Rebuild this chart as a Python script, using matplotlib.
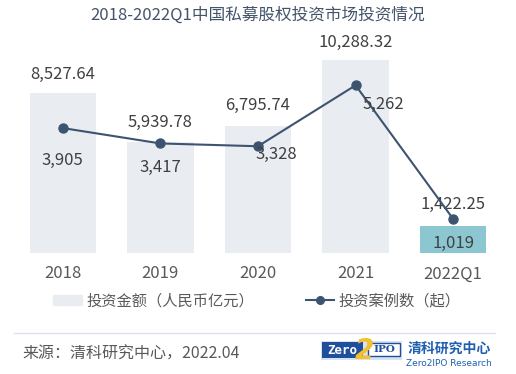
import matplotlib
matplotlib.use("Agg")
import matplotlib.pyplot as plt
from matplotlib.patches import Rectangle
from matplotlib.lines import Line2D

plt.rcParams['font.family'] = ['Noto Sans CJK SC', 'DejaVu Sans']

years = ['2018', '2019', '2020', '2021', '2022Q1']
amount = [8527.64, 5939.78, 6795.74, 10288.32, 1422.25]
cases = [3905, 3417, 3328, 5262, 1019]
amount_labels = ['8,527.64', '5,939.78', '6,795.74', '10,288.32', '1,422.25']
case_labels = ['3,905', '3,417', '3,328', '5,262', '1,019']

bar_color = '#E9EDF2'
hl_color = '#8CC6D1'
line_color = '#3D5470'
text_color = '#404040'

W, H = 516, 374
fig = plt.figure(figsize=(W / 100, H / 100), dpi=100)
ax = fig.add_axes([14 / W, (H - 253) / H, 488 / W, 213 / H])
ax2 = ax.twinx()

x = list(range(len(years)))
colors = [bar_color] * 4 + [hl_color]
ax.bar(x, amount, width=0.68, color=colors, zorder=1)
ax.set_xlim(-0.5, 4.5)
ax.set_ylim(0, 11354)

ax2.plot(x, cases, color=line_color, lw=1.5, marker='o', ms=6.5, zorder=3)
ax2.set_ylim(-60, 6700)

for a in (ax, ax2):
    for s in a.spines.values():
        s.set_visible(False)
    a.set_yticks([])
ax.set_xticks(x)
ax.set_xticklabels(years, fontsize=12, color='#595959')
ax.tick_params(axis='x', length=0, pad=9)

bar_off = [19, 19, 20, 18, 22]
for i, (v, lab) in enumerate(zip(amount, amount_labels)):
    ax.annotate(lab, (i, v), xytext=(0, bar_off[i]), textcoords='offset pixels',
                ha='center', va='center', fontsize=12, color=text_color)

case_off = [(0, -32), (0, -24), (18, -8), (28, -19), (0, -24)]
for i, (v, lab) in enumerate(zip(cases, case_labels)):
    ax2.annotate(lab, (i, v), xytext=case_off[i], textcoords='offset pixels',
                 ha='center', va='center', fontsize=12, color=text_color)

fig.text(0.5, 1 - 15 / H, '2018-2022Q1中国私募股权投资市场投资情况', ha='center', va='center',
         fontsize=12, color='#44546A')

# legend
handles = [Rectangle((0, 0), 1, 1, color=bar_color),
           Line2D([], [], color=line_color, lw=1.5, marker='o', ms=5.5)]
fig.legend(handles, ['投资金额（人民币亿元）', '投资案例数（起）'], loc='center',
           bbox_to_anchor=(257 / W, 1 - 301 / H), ncol=2, frameon=False,
           fontsize=11, handlelength=1.85, handletextpad=0.3, columnspacing=3.4,
           handleheight=0.6, labelcolor='#595959')

# footer
fig.add_artist(Line2D([14 / W, 495 / W], [1 - 333 / H] * 2, color='#DDE3EA', lw=1))
fig.text(22 / W, 1 - 354 / H, '来源：清科研究中心，2022.04', ha='left', va='center',
         fontsize=11.5, color='#595959')

# logo
def px(x0, y0, w, h, **kw):
    fig.add_artist(Rectangle((x0 / W, 1 - (y0 + h) / H), w / W, h / H,
                             transform=fig.transFigure, **kw))

px(321, 341, 81, 19, facecolor='#D9E2F0', edgecolor='none')
px(322, 342, 41, 16, facecolor='#1F4E9C', edgecolor='none')
px(368, 343, 32, 13, facecolor='white', edgecolor='#1F4E9C', lw=1)
fig.text(342 / W, 1 - 350 / H, 'Zero', ha='center', va='center', fontsize=9,
         color='white', weight='bold', family='DejaVu Sans Mono')
fig.text(384 / W, 1 - 350 / H, 'IPO', ha='center', va='center', fontsize=7.5,
         color='#1F4E9C', weight='bold', family='DejaVu Serif')
fig.text(364 / W, 1 - 351 / H, '2', ha='center', va='center', fontsize=20,
         color='#F2C12E', weight='bold', style='italic', family='DejaVu Sans')
fig.text(449 / W, 1 - 349 / H, '清科研究中心', ha='center', va='center', fontsize=10,
         color='#1F5FAF', weight='bold')
fig.text(449 / W, 1 - 364 / H, 'Zero2IPO Research', ha='center', va='center', fontsize=6.5,
         color='#1F5FAF', family='Liberation Sans Narrow')

fig.savefig('out.png', dpi=100)
